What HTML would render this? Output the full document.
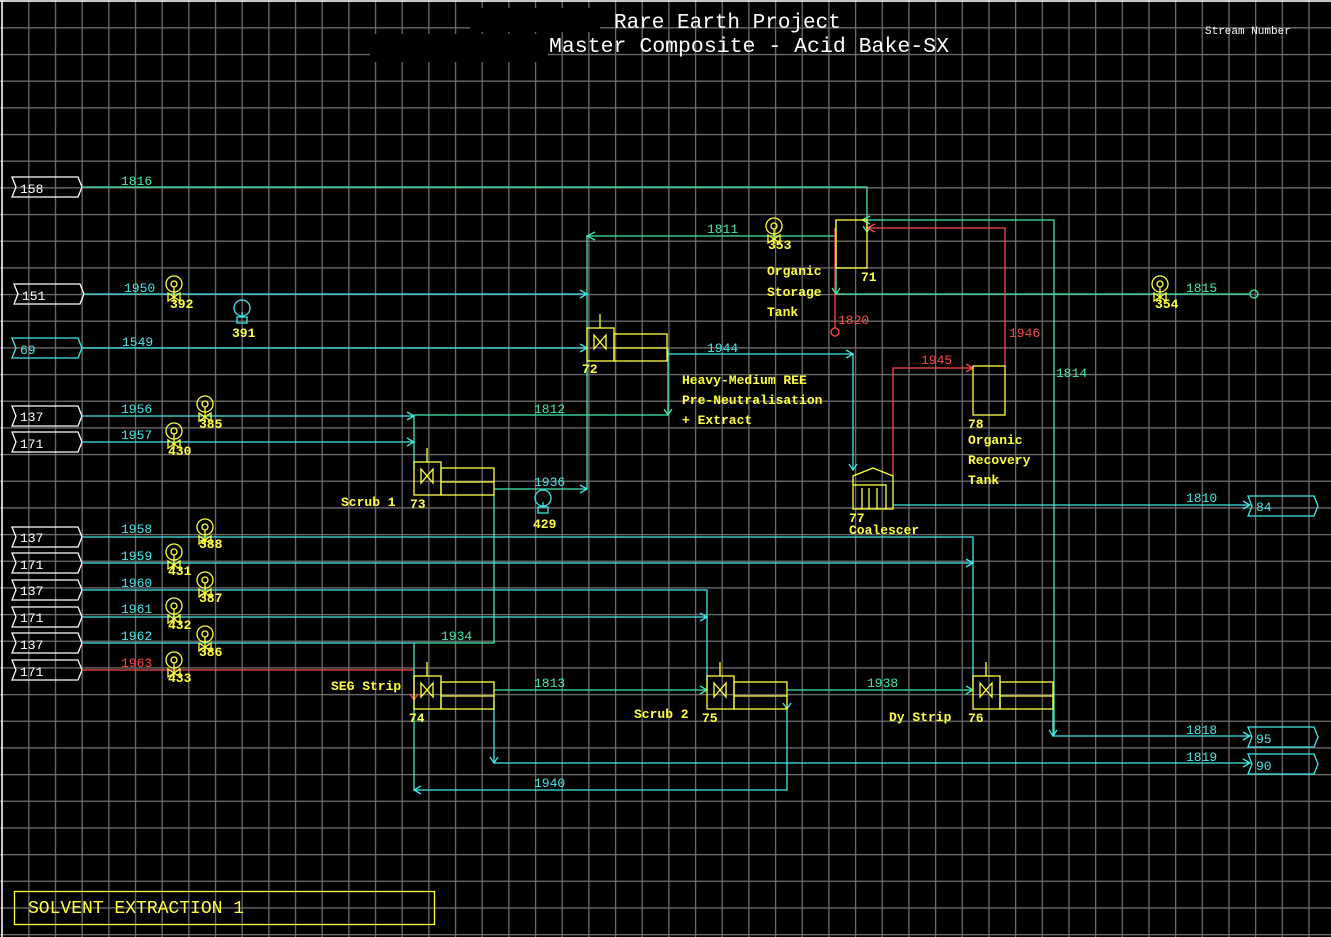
<!DOCTYPE html>
<html><head><meta charset="utf-8"><style>
html,body{margin:0;padding:0;background:#000;}
svg{display:block;}
text{font-family:"Liberation Mono",monospace;}
.c{stroke:#40e8e8;fill:none;stroke-width:1.3}
.g{stroke:#40e8b0;fill:none;stroke-width:1.3}
.r{stroke:#ff4848;fill:none;stroke-width:1.3}
.y{stroke:#ffff40;fill:none;stroke-width:1.3}
.w{stroke:#fff;fill:none;stroke-width:1.3}
.tc{fill:#40e8e8;font-size:13px}
.tg{fill:#40e8b0;font-size:13px}
.tr{fill:#ff4848;font-size:13px}
.ty{fill:#ffff40;font-size:13px;font-weight:bold}
.tw{fill:#fff;font-size:13px}
</style></head><body>
<svg width="1331" height="937" viewBox="0 0 1331 937" xmlns="http://www.w3.org/2000/svg">
<defs>
<pattern id="grid" x="1.5" y="0.5" width="26.67" height="26.67" patternUnits="userSpaceOnUse">
<path d="M0.5 0V26.67M0 0.5H26.67" stroke="#6c6c6c" stroke-width="1.6" fill="none"/>
</pattern>
<g id="pump" class="y"><circle cx="0" cy="0" r="8"/><circle cx="0" cy="0" r="3"/><line x1="0" y1="3" x2="0" y2="18"/><path d="M-6 9L6 17V9L-6 17Z"/></g>
<g id="inst"><circle cx="0" cy="0" r="8" class="c"/><line x1="0" y1="4" x2="0" y2="9" class="c"/><rect x="-5" y="9" width="10" height="6" class="c"/></g>
<g id="ext" class="y"><rect x="0" y="0" width="27" height="33"/><rect x="27" y="6" width="53" height="27"/><line x1="27" y1="20" x2="80" y2="20"/><line x1="13" y1="-14" x2="13" y2="0"/><path d="M7 7L19 21V7L7 21Z"/></g>
<polygon id="feed" points="12,-10 78,-10 82,0 78,10 12,10 16,0"/>
</defs>
<rect width="1331" height="937" fill="#000"/>
<rect width="1331" height="937" fill="url(#grid)"/>
<line x1="0" y1="1" x2="1331" y2="1" stroke="#fff" stroke-width="1.5"/>
<line x1="2" y1="0" x2="2" y2="937" stroke="#fff" stroke-width="1.5"/>

<!-- title -->
<rect x="470" y="8" width="130" height="24" fill="#000"/>
<rect x="370" y="34" width="178" height="28" fill="#000"/>
<text x="614" y="28" style="font-size:21px;fill:#fff">Rare Earth Project</text>
<text x="549" y="52" style="font-size:21.5px;fill:#fff">Master Composite - Acid Bake-SX</text>
<text x="1205" y="34" class="tw" style="font-size:11px">Stream Number</text>

<!-- feed boxes -->
<g class="w">
<use href="#feed" transform="translate(0,187)"/>
<use href="#feed" transform="translate(2,294)"/>
<use href="#feed" transform="translate(0,416)"/>
<use href="#feed" transform="translate(0,442)"/>
<use href="#feed" transform="translate(0,537)"/>
<use href="#feed" transform="translate(0,563)"/>
<use href="#feed" transform="translate(0,590)"/>
<use href="#feed" transform="translate(0,617)"/>
<use href="#feed" transform="translate(0,643)"/>
<use href="#feed" transform="translate(0,670)"/>
</g>
<use href="#feed" class="c" transform="translate(0,348)"/>
<g class="c">
<use href="#feed" transform="translate(1236,506)"/>
<use href="#feed" transform="translate(1236,737)"/>
<use href="#feed" transform="translate(1236,764)"/>
</g>
<text x="20" y="193" class="tw">158</text>
<text x="22" y="300" class="tw">151</text>
<text x="20" y="354" class="tc">69</text>
<text x="20" y="421" class="tw">137</text>
<text x="20" y="448" class="tw">171</text>
<text x="20" y="542" class="tw">137</text>
<text x="20" y="569" class="tw">171</text>
<text x="20" y="595" class="tw">137</text>
<text x="20" y="622" class="tw">171</text>
<text x="20" y="649" class="tw">137</text>
<text x="20" y="676" class="tw">171</text>
<text x="1256" y="511" class="tc">84</text>
<text x="1256" y="743" class="tc">95</text>
<text x="1256" y="770" class="tc">90</text>

<!-- streams -->
<polyline class="g" points="82,187 867,187 867,232"/>
<polyline class="c" points="84,294 587,294"/>
<polyline class="c" points="82,348 587,348"/>
<polyline class="c" points="82,416 414,416"/>
<polyline class="c" points="82,442 414,442"/>
<polyline class="c" points="82,537 973,537 973,690"/>
<polyline class="c" points="82,563 973,563"/>
<polyline class="c" points="82,590 707,590 707,690"/>
<polyline class="c" points="82,617 707,617"/>
<polyline class="c" points="82,643 414,643"/>
<polyline class="r" points="82,670 414,670 414,700"/>
<polyline class="g" points="836,236 587,236 587,489 494,489"/>
<polyline class="g" points="668,348 668,415 414,415 414,470"/>
<polyline class="c" points="667,354 853,354 853,470"/>
<polyline class="g" points="836,220 836,294 1250,294"/>
<circle cx="1254" cy="294" r="4" class="g"/>
<polyline class="g" points="1054,735 1054,220 862,220"/>
<polyline class="r" points="835,228 835,328"/>
<circle cx="835" cy="332" r="4" class="r"/>
<polyline class="r" points="1005,366 1005,228 867,228"/>
<polyline class="r" points="893,476 893,368 973,368"/>
<polyline class="c" points="893,505 1250,505"/>
<polyline class="g" points="494,495 494,643 414,643 414,790"/>
<polyline class="c" points="414,790 787,790 787,709"/>
<polyline class="g" points="494,690 707,690"/>
<polyline class="g" points="787,690 973,690"/>
<polyline class="c" points="494,700 494,763 1250,763"/>
<polyline class="c" points="1053,700 1053,736 1250,736"/>

<!-- arrowheads -->
<g class="c">
<path d="M580 290L587 294L580 298"/><path d="M580 344L587 348L580 352"/>
<path d="M407 412L414 416L407 420"/><path d="M407 438L414 442L407 446"/>
<path d="M966 559L973 563L966 567"/><path d="M700 613L707 617L700 621"/>
<path d="M1243 501L1250 505L1243 509"/><path d="M1243 732L1250 736L1243 740"/><path d="M1243 759L1250 763L1243 767"/>
<path d="M846 350L853 354L846 358"/><path d="M580 485L587 489L580 493"/>
<path d="M849 464L853 470L857 464"/><path d="M490 757L494 763L498 757"/><path d="M1049 730L1053 736L1057 730"/>
<path d="M421 786L414 790L421 794"/><path d="M783 703L787 709L791 703"/>
</g>
<g class="g">
<path d="M595 232L587 236L595 240"/><path d="M863 226L867 232L871 226"/>
<path d="M870 216L862 220L870 224"/><path d="M664 409L668 415L672 409"/>
<path d="M700 686L707 690L700 694"/><path d="M966 686L973 690L966 694"/>
<path d="M832 288L836 294L840 288"/>
</g>
<g class="r"><path d="M875 224L867 228L875 232"/><path d="M966 364L973 368L966 372"/><path d="M410 694L414 700L418 694"/></g>

<!-- equipment -->
<use href="#ext" transform="translate(587,328)"/>
<use href="#ext" transform="translate(414,462)"/>
<use href="#ext" transform="translate(414,676)"/>
<use href="#ext" transform="translate(707,676)"/>
<use href="#ext" transform="translate(973,676)"/>
<rect x="836" y="220" width="31" height="48" class="y"/>
<rect x="973" y="366" width="32" height="49" class="y"/>
<g class="y"><rect x="853" y="485" width="33" height="24"/><polyline points="886,509 893,509 893,476 873,468 853,476 853,485"/><line x1="862" y1="488" x2="862" y2="509"/><line x1="869" y1="488" x2="869" y2="509"/><line x1="877" y1="488" x2="877" y2="509"/></g>

<use href="#pump" transform="translate(174,284)"/>
<use href="#pump" transform="translate(205,404)"/>
<use href="#pump" transform="translate(174,431)"/>
<use href="#pump" transform="translate(205,527)"/>
<use href="#pump" transform="translate(174,552)"/>
<use href="#pump" transform="translate(205,580)"/>
<use href="#pump" transform="translate(174,606)"/>
<use href="#pump" transform="translate(205,634)"/>
<use href="#pump" transform="translate(174,660)"/>
<use href="#pump" transform="translate(774,226)"/>
<use href="#pump" transform="translate(1160,284)"/>
<use href="#inst" transform="translate(242,308)"/>
<use href="#inst" transform="translate(543,498)"/>

<!-- labels -->
<text x="121" y="185" class="tg">1816</text>
<text x="124" y="292" class="tc">1950</text>
<text x="122" y="346" class="tc">1549</text>
<text x="121" y="413" class="tc">1956</text>
<text x="121" y="439" class="tc">1957</text>
<text x="121" y="533" class="tc">1958</text>
<text x="121" y="560" class="tc">1959</text>
<text x="121" y="587" class="tc">1960</text>
<text x="121" y="613" class="tc">1961</text>
<text x="121" y="640" class="tc">1962</text>
<text x="121" y="667" class="tr">1963</text>
<text x="707" y="233" class="tg">1811</text>
<text x="707" y="352" class="tc">1944</text>
<text x="534" y="413" class="tg">1812</text>
<text x="534" y="486" class="tc">1936</text>
<text x="441" y="640" class="tg">1934</text>
<text x="534" y="687" class="tg">1813</text>
<text x="867" y="687" class="tg">1938</text>
<text x="534" y="787" class="tc">1940</text>
<text x="1186" y="292" class="tg">1815</text>
<text x="1056" y="377" class="tg">1814</text>
<text x="1186" y="502" class="tc">1810</text>
<text x="1186" y="734" class="tc">1818</text>
<text x="1186" y="761" class="tc">1819</text>
<text x="838" y="324" class="tr">1820</text>
<text x="1009" y="337" class="tr">1946</text>
<text x="921" y="364" class="tr">1945</text>

<text x="170" y="308" class="ty">392</text>
<text x="232" y="337" class="ty">391</text>
<text x="199" y="428" class="ty">385</text>
<text x="168" y="455" class="ty">430</text>
<text x="199" y="548" class="ty">388</text>
<text x="168" y="575" class="ty">431</text>
<text x="199" y="602" class="ty">387</text>
<text x="168" y="629" class="ty">432</text>
<text x="199" y="656" class="ty">386</text>
<text x="168" y="682" class="ty">433</text>
<text x="768" y="249" class="ty">353</text>
<text x="1155" y="308" class="ty">354</text>
<text x="533" y="528" class="ty">429</text>
<text x="861" y="281" class="ty">71</text>
<text x="582" y="373" class="ty">72</text>
<text x="410" y="508" class="ty">73</text>
<text x="409" y="722" class="ty">74</text>
<text x="702" y="722" class="ty">75</text>
<text x="968" y="722" class="ty">76</text>
<text x="849" y="522" class="ty">77</text>
<text x="849" y="534" class="ty">Coalescer</text>
<text x="968" y="428" class="ty">78</text>
<text x="968" y="444" class="ty">Organic</text>
<text x="968" y="464" class="ty">Recovery</text>
<text x="968" y="484" class="ty">Tank</text>
<text x="767" y="275" class="ty">Organic</text>
<text x="767" y="296" class="ty">Storage</text>
<text x="767" y="316" class="ty">Tank</text>
<text x="682" y="384" class="ty">Heavy-Medium REE</text>
<text x="682" y="404" class="ty">Pre-Neutralisation</text>
<text x="682" y="424" class="ty">+ Extract</text>
<text x="341" y="506" class="ty">Scrub 1</text>
<text x="331" y="690" class="ty">SEG Strip</text>
<text x="634" y="718" class="ty">Scrub 2</text>
<text x="889" y="721" class="ty">Dy Strip</text>

<rect x="14.5" y="891.5" width="420" height="33" class="y"/>
<text x="28" y="913" style="font-size:18px;fill:#ffff40">SOLVENT EXTRACTION 1</text>
</svg>
</body></html>
